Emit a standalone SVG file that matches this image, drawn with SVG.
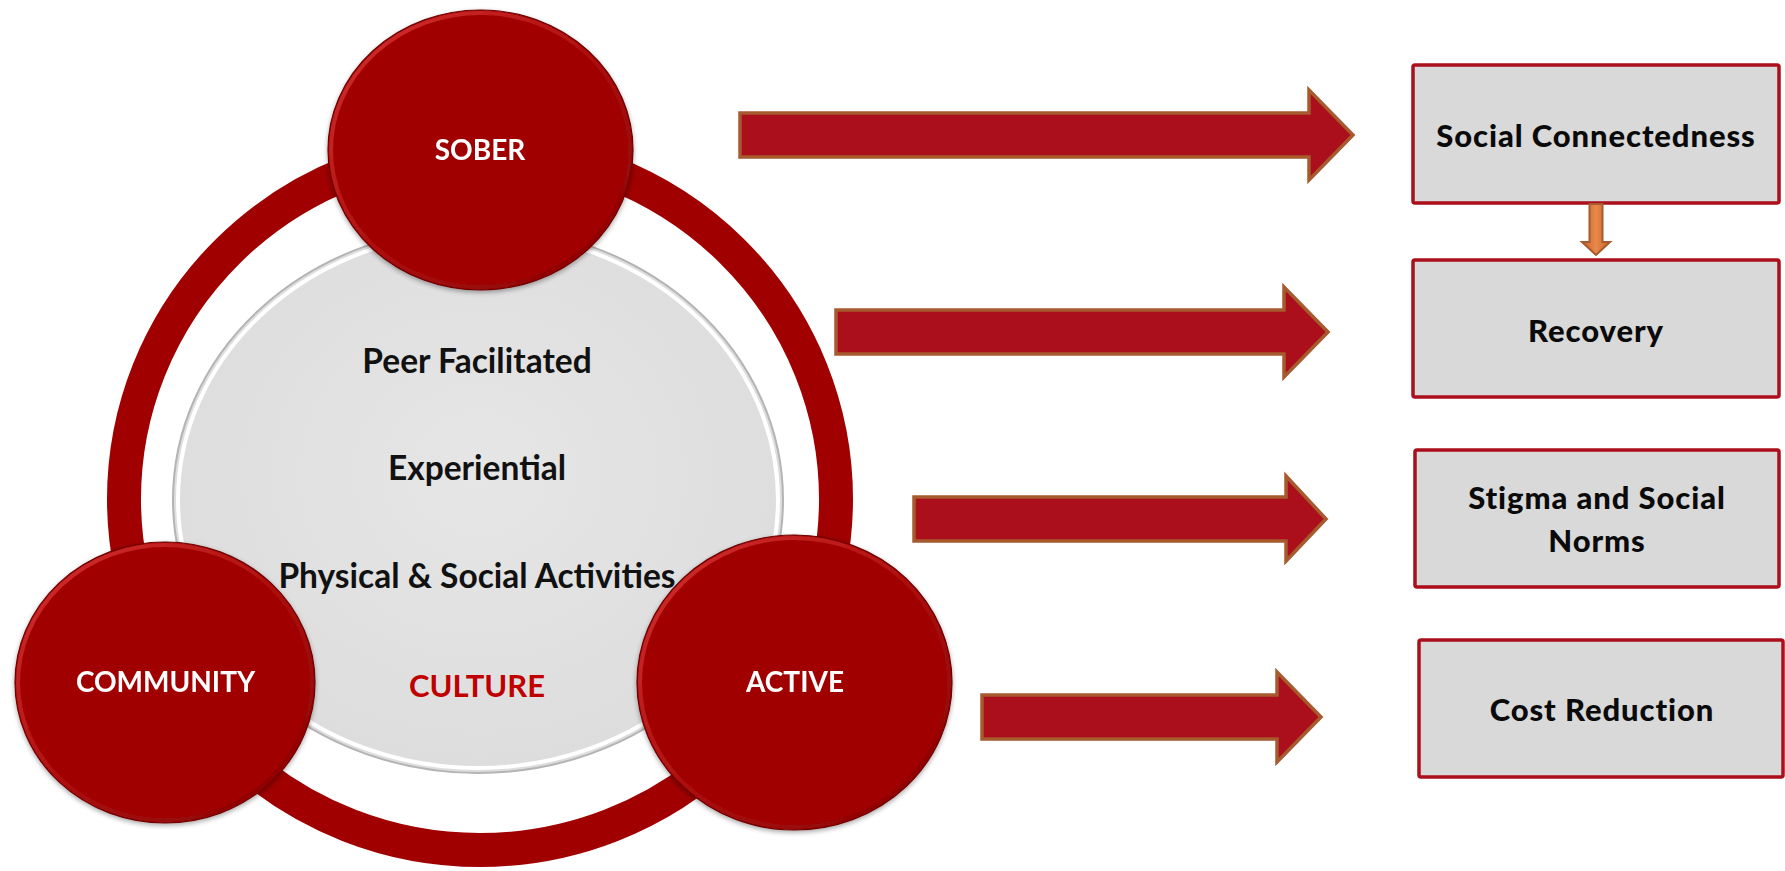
<svg xmlns="http://www.w3.org/2000/svg" width="1785" height="871" viewBox="0 0 1785 871">
  <defs>
    <style>
      .ball { fill: #A10202; stroke: #6E0000; stroke-width: 1.2; }
      .rim { fill: none; stroke: url(#rimGrad); stroke-width: 4; opacity: 0.85; }
      .ballText { font-family: Lato, "Liberation Sans", sans-serif; font-weight: 700; font-size: 28px; fill: #FFFFFF; text-anchor: middle; }
      .coreText { font-family: Lato, "Liberation Sans", sans-serif; font-weight: 700; font-size: 33.5px; fill: #111111; text-anchor: middle; }
      .culture { fill: #C00000; font-size: 31px; }
      .flow { fill: #AA0F1B; stroke: #A65A2E; stroke-width: 3.5; stroke-linejoin: miter; }
      .box { fill: #D9D9D9; stroke: #AA0F1B; stroke-width: 3.5; }
      .boxText { font-family: Lato, "Liberation Sans", sans-serif; font-weight: 900; font-size: 31px; letter-spacing: 0.9px; fill: #0A0A0A; text-anchor: middle; }
    </style>
    <linearGradient id="rimGrad" x1="0" y1="0" x2="1" y2="1">
      <stop offset="0" stop-color="#E03A3A"/>
      <stop offset="0.45" stop-color="#B51515"/>
      <stop offset="1" stop-color="#7E0000"/>
    </linearGradient>
    <radialGradient id="coreGrad" cx="0.5" cy="0.45" r="0.6">
      <stop offset="0" stop-color="#E6E6E6"/>
      <stop offset="1" stop-color="#DCDCDC"/>
    </radialGradient>
    <linearGradient id="smallArrowGrad" x1="0" y1="0" x2="1" y2="0">
      <stop offset="0" stop-color="#C8642C"/>
      <stop offset="0.5" stop-color="#E8884A"/>
      <stop offset="1" stop-color="#C8642C"/>
    </linearGradient>
    <filter id="softShadow" x="-10%" y="-10%" width="120%" height="125%">
      <feGaussianBlur in="SourceAlpha" stdDeviation="2.5"/>
      <feOffset dx="0" dy="2" result="b"/>
      <feComponentTransfer><feFuncA type="linear" slope="0.35"/></feComponentTransfer>
      <feMerge><feMergeNode/><feMergeNode in="SourceGraphic"/></feMerge>
    </filter>
  </defs>

  <rect width="1785" height="871" fill="#FFFFFF"/>

  <!-- outer ring joining the three values -->
  <g id="ring">
    <ellipse cx="480" cy="499" rx="356" ry="351" fill="none" stroke="#A00000" stroke-width="34"/>
  </g>

  <!-- central culture disc -->
  <g id="core">
    <ellipse cx="478" cy="500" rx="305" ry="273" fill="url(#coreGrad)" stroke="#B4B4B4" stroke-width="2"/>
    <ellipse cx="478" cy="500" rx="300" ry="268" fill="none" stroke="#FFFFFF" stroke-width="4"/>
    <text class="coreText" x="477" y="373">Peer Facilitated</text>
    <text class="coreText" x="477" y="480">Experiential</text>
    <text class="coreText" x="477" y="588">Physical &amp; Social Activities</text>
    <text class="coreText culture" x="477" y="697">CULTURE</text>
  </g>

  <!-- value circles -->
  <g id="sober" filter="url(#softShadow)">
    <ellipse class="ball" cx="480.5" cy="150" rx="152.5" ry="140"/>
    <ellipse class="rim" cx="480.5" cy="150" rx="149.5" ry="137"/>
    <text class="ballText" x="480" y="160">SOBER</text>
  </g>
  <g id="community" filter="url(#softShadow)">
    <ellipse class="ball" cx="165" cy="682.5" rx="150" ry="140.5"/>
    <ellipse class="rim" cx="165" cy="682.5" rx="147" ry="137.5"/>
    <text class="ballText" x="165.5" y="692">COMMUNITY</text>
  </g>
  <g id="active" filter="url(#softShadow)">
    <ellipse class="ball" cx="794.5" cy="682.5" rx="157.5" ry="147.5"/>
    <ellipse class="rim" cx="794.5" cy="682.5" rx="154.5" ry="144.5"/>
    <text class="ballText" x="795" y="692">ACTIVE</text>
  </g>

  <!-- outcome boxes -->
  <g id="social-connectedness">
    <rect class="box" x="1413" y="65" width="366" height="138" rx="2"/>
    <text class="boxText" x="1596" y="147">Social Connectedness</text>
  </g>
  <g id="recovery">
    <rect class="box" x="1413" y="260" width="366" height="137" rx="2"/>
    <text class="boxText" x="1596" y="342">Recovery</text>
  </g>
  <g id="stigma">
    <rect class="box" x="1415" y="450" width="364" height="137" rx="2"/>
    <text class="boxText" x="1597" y="509">Stigma and Social</text>
    <text class="boxText" x="1597" y="552">Norms</text>
  </g>
  <g id="cost-reduction">
    <rect class="box" x="1419" y="640" width="364" height="137" rx="2"/>
    <text class="boxText" x="1602" y="721">Cost Reduction</text>
  </g>

  <!-- connectors -->
  <g id="connectors">
    <path class="flow" d="M740,113 H1309 V90 L1353,135 L1309,180 V157 H740 Z"/>
    <path class="flow" d="M836,310 H1284 V287 L1328,332 L1284,377 V354 H836 Z"/>
    <path class="flow" d="M914,497 H1286 V476 L1326,519 L1286,561 V541 H914 Z"/>
    <path class="flow" d="M982,695 H1277 V672 L1321,717 L1277,762 V739 H982 Z"/>
    <path d="M1589.5,204 H1602.5 V242 H1610 L1596,255 L1582,242 H1589.5 Z" fill="url(#smallArrowGrad)" stroke="#A65A2E" stroke-width="2"/>
  </g>
</svg>
